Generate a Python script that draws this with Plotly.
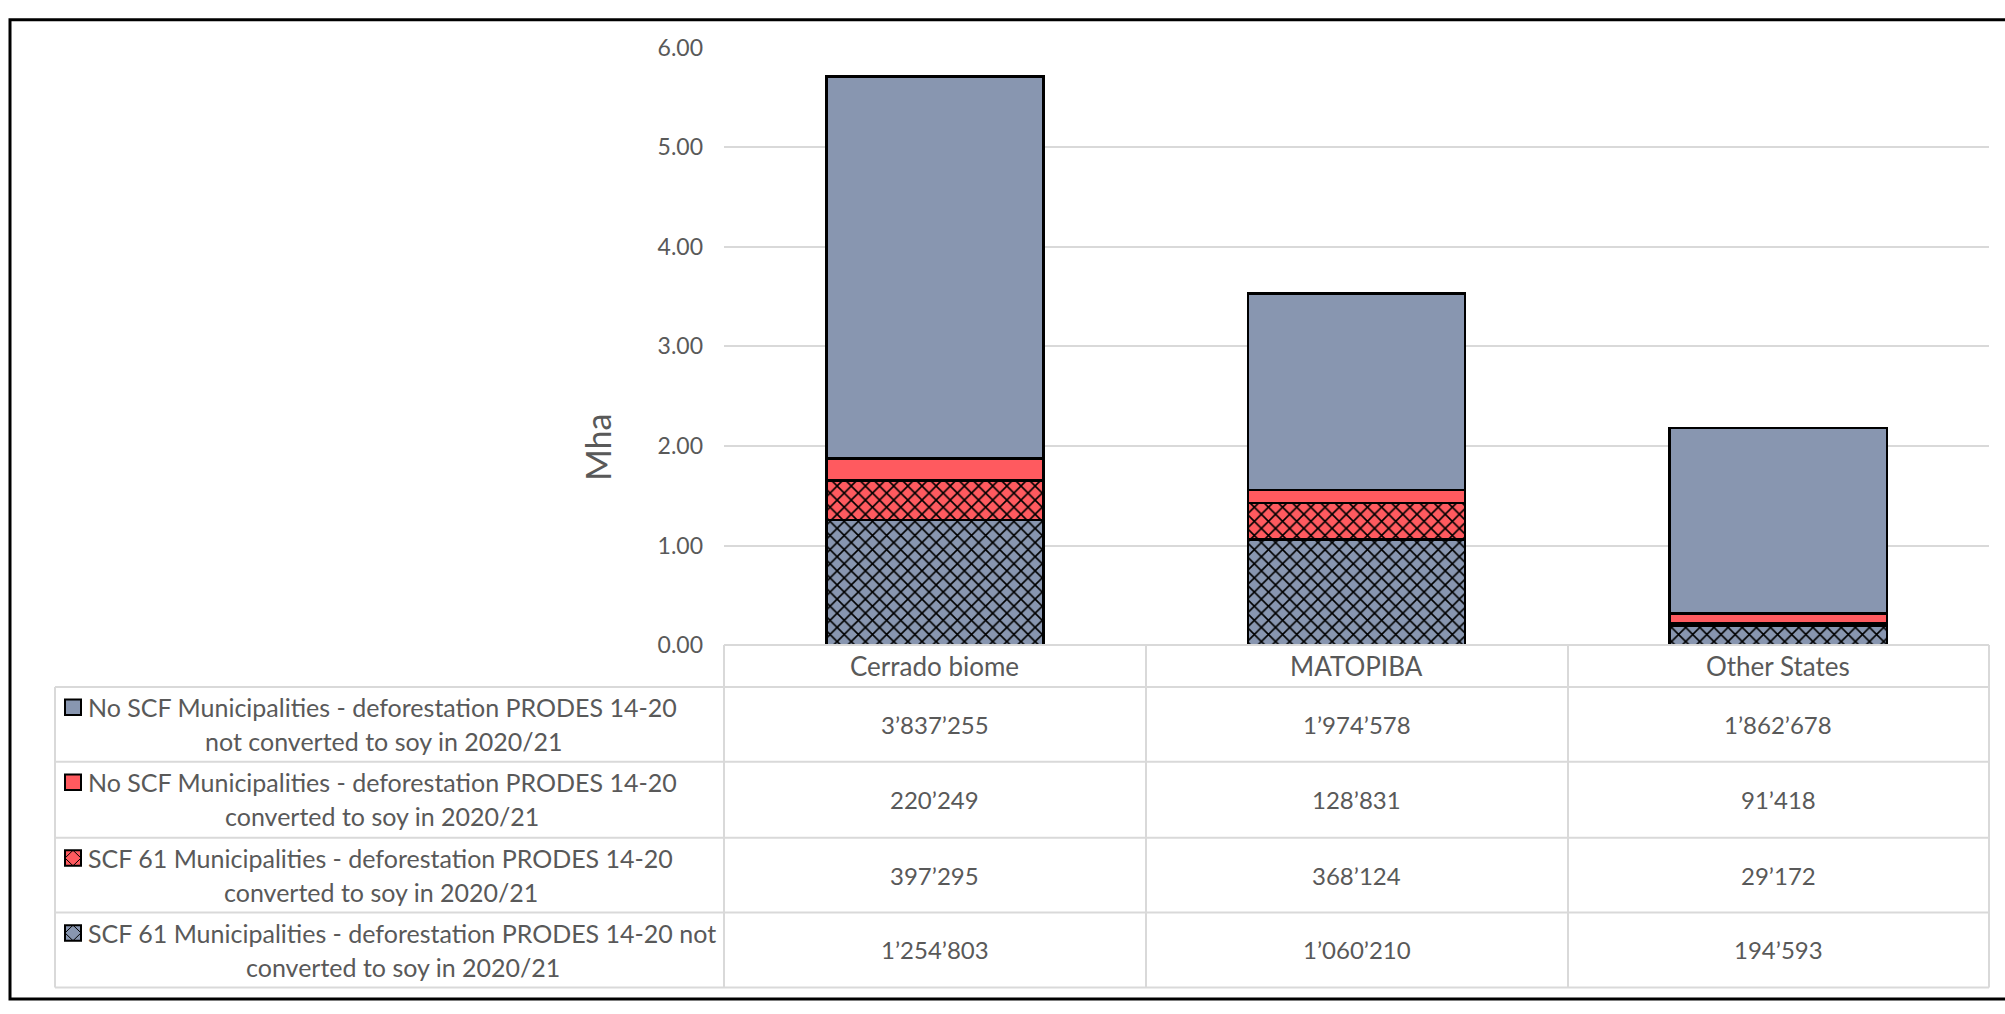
import plotly.graph_objects as go

W, H = 2005, 1014

categories = ["Cerrado biome", "MATOPIBA", "Other States"]

# values in hectares (table order, top to bottom)
no_scf_not_converted = [3837255, 1974578, 1862678]
no_scf_converted = [220249, 128831, 91418]
scf_converted = [397295, 368124, 29172]
scf_not_converted = [1254803, 1060210, 194593]

label_line1 = [
    "No SCF Municipalities - deforestation PRODES 14-20",
    "No SCF Municipalities - deforestation PRODES 14-20",
    "SCF 61 Municipalities - deforestation PRODES 14-20",
    "SCF 61 Municipalities - deforestation PRODES 14-20 not",
]
label_line2 = [
    "not converted to soy in 2020/21",
    "converted to soy in 2020/21",
    "converted to soy in 2020/21",
    "converted to soy in 2020/21",
]

y_title = "Mha"

GRAY = "#8896B0"
RED = "#FF5A5F"
TXT = "#595959"
LINE = "#D9D9D9"
FONT = "Lato"

table_series = [no_scf_not_converted, no_scf_converted, scf_converted, scf_not_converted]
table_colors = [GRAY, RED, RED, GRAY]
table_hatched = [False, False, True, True]


def fx(x):
    return x / W


def fy(y):
    return 1 - y / H


fig = go.Figure()

# stacked bars: bottom to top is the reverse of the table order
for vals, col, hatch in reversed(list(zip(table_series, table_colors, table_hatched))):
    pattern = dict(shape="x", size=10, solidity=0.3, fgcolor="black", bgcolor=col,
                   fillmode="replace") if hatch else dict(shape="")
    fig.add_trace(go.Bar(
        x=categories, y=[v / 1e6 for v in vals],
        marker=dict(color=col, line=dict(color="black", width=2.5), pattern=pattern),
        hoverinfo="skip",
    ))

shapes = []
annotations = []

# outer border
shapes.append(dict(type="rect", xref="paper", yref="paper", x0=fx(10), x1=fx(2012),
                   y0=fy(5), y1=fy(1012), line=dict(color="black", width=3)))

# table geometry (pixels)
col_x = [724, 1146, 1568, 1989]
row_tops = [691, 768, 846, 923]
row_bottom = 1000
left_x = 55
header_y = 669

for x in col_x:
    shapes.append(dict(type="line", xref="paper", yref="paper", x0=fx(x), x1=fx(x),
                       y0=fy(648), y1=fy(row_bottom), line=dict(color=LINE, width=2)))
shapes.append(dict(type="line", xref="paper", yref="paper", x0=fx(left_x), x1=fx(left_x),
                   y0=fy(row_tops[0]), y1=fy(row_bottom), line=dict(color=LINE, width=2)))
for y in row_tops + [row_bottom]:
    shapes.append(dict(type="line", xref="paper", yref="paper", x0=fx(left_x), x1=fx(col_x[-1]),
                       y0=fy(y), y1=fy(y), line=dict(color=LINE, width=2)))
shapes.append(dict(type="line", xref="paper", yref="paper", x0=fx(col_x[0]), x1=fx(col_x[-1]),
                   y0=fy(648), y1=fy(648), line=dict(color=LINE, width=2)))

# header
for c in categories:
    annotations.append(dict(x=c, xref="x", xanchor="center", y=fy(header_y), yref="paper",
                            yanchor="middle", text=c, showarrow=False,
                            font=dict(family=FONT, size=26, color=TXT)))

line2_centers = [384, 382, 381, 403]
for r, (vals, col, hatch) in enumerate(zip(table_series, table_colors, table_hatched)):
    top = row_tops[r]
    rc = top + 38.5
    for c, v in zip(categories, vals):
        annotations.append(dict(x=c, xref="x", xanchor="center", y=fy(rc), yref="paper",
                                yanchor="middle",
                                text=f"{v:,}".replace(",", "\u2019"), showarrow=False,
                                font=dict(family=FONT, size=24, color=TXT)))
    annotations.append(dict(x=fx(86), xref="paper", xanchor="left", y=fy(top + 21),
                            yref="paper", yanchor="middle",
                            text=label_line1[r], showarrow=False,
                            font=dict(family=FONT, size=25, color=TXT)))
    annotations.append(dict(x=fx(line2_centers[r]), xref="paper", xanchor="center",
                            y=fy(top + 56), yref="paper", yanchor="middle",
                            text=label_line2[r], showarrow=False,
                            font=dict(family=FONT, size=25, color=TXT)))
    # legend key
    kx0, kx1, ky0, ky1 = 65, 81, top + 13, top + 29
    shapes.append(dict(type="rect", xref="paper", yref="paper", x0=fx(kx0), x1=fx(kx1),
                       y0=fy(ky0), y1=fy(ky1), fillcolor=col, line=dict(color="black", width=2)))
    if hatch:
        path = (f"M {fx(kx0)},{fy(ky0 + 8)} L {fx(kx0 + 8)},{fy(ky0)} L {fx(kx1)},{fy(ky0 + 8)} "
                f"L {fx(kx0 + 8)},{fy(ky1)} Z")
        shapes.append(dict(type="path", xref="paper", yref="paper", path=path,
                           line=dict(color="black", width=1)))

# y-axis title
annotations.append(dict(x=fx(598), xref="paper", xanchor="center", y=fy(445), yref="paper",
                        yanchor="middle", text=y_title, textangle=-90, showarrow=False,
                        font=dict(family=FONT, size=34, color=TXT)))

fig.update_layout(
    width=W, height=H, margin=dict(l=0, r=0, t=0, b=0, pad=0),
    paper_bgcolor="white", plot_bgcolor="white",
    barmode="stack", bargap=0.485, showlegend=False,
    font=dict(family=FONT, color=TXT, size=22),
    xaxis=dict(domain=[fx(724), fx(1989)], range=[-0.5, 2.5], showticklabels=False,
               showgrid=False, zeroline=False, showline=False, fixedrange=True),
    yaxis=dict(domain=[fy(648), fy(33.5)], range=[0, 6], dtick=1, tickformat=".2f",
               showgrid=True, gridcolor=LINE, gridwidth=2,
               zeroline=True, zerolinecolor=LINE, zerolinewidth=2,
               showline=False, ticks="", ticklabelstandoff=20,
               tickfont=dict(family=FONT, size=23, color=TXT), fixedrange=True),
    shapes=shapes, annotations=annotations,
)

post = (
    "var gd=document.getElementById('{plot_id}');"
    "gd.style.position='absolute';gd.style.top='0px';gd.style.left='0px';"
    "var de=document.documentElement;de.style.margin='0';de.style.padding='0';"
    "de.style.overflow='hidden';de.style.height='1014px';"
    "document.body.style.margin='0';document.body.style.padding='0';"
    "document.body.style.overflow='hidden';document.body.style.height='1014px';"
)

fig.write_html("out.html", config={"displayModeBar": False}, post_script=post)
